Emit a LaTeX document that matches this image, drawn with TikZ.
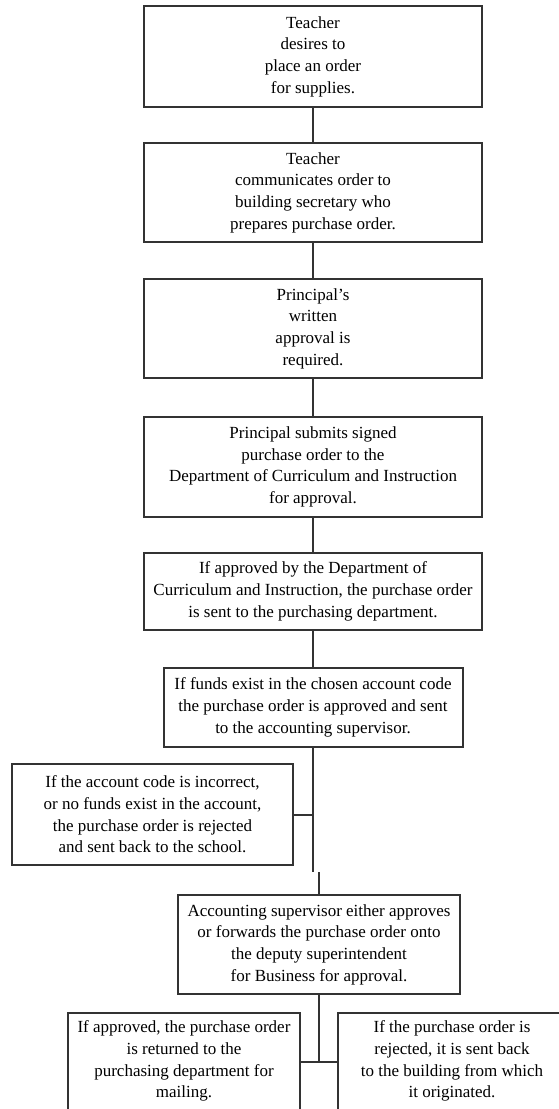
\documentclass[tikz,border=0pt]{standalone}
\usepackage{fontspec}
\setmainfont{Liberation Serif}
\begin{document}
\begin{tikzpicture}[x=1pt,y=-1pt,
  box/.style={draw=black!80, line width=2pt, rectangle, inner sep=0pt, align=center,
    font=\fontsize{17}{21.7}\selectfont},
  txt/.style={inner sep=0pt, align=center, font=\fontsize{17}{21.7}\selectfont},
  con/.style={draw=black!80, line width=2pt}]
\useasboundingbox (0,0) rectangle (559,1109);
\clip (0,0) rectangle (559,1109);

\node[box, minimum width=338pt, minimum height=101pt] (b1) at (313,56.5)
  {Teacher\\desires to\\place an order\\for supplies.};
\node[box, minimum width=338pt, minimum height=99pt] (b2) at (313,192.5)
  {Teacher\\communicates order to\\building secretary who\\prepares purchase order.};
\node[box, minimum width=338pt, minimum height=99pt] (b3) at (313,328.5)
  {Principal’s\\written\\approval is\\required.};
\node[box, minimum width=338pt, minimum height=100pt] (b4) at (313,467)
  {Principal submits signed\\purchase order to the\\Department of Curriculum and Instruction\\for approval.};
\node[box, minimum width=338pt, minimum height=77pt] (b5) at (313,591.5)
  {If approved by the Department of\\Curriculum and Instruction, the purchase order\\is sent to the purchasing department.};
\node[box, minimum width=299pt, minimum height=79pt] (b6) at (313,707.5)
  {If funds exist in the chosen account code\\the purchase order is approved and sent\\to the accounting supervisor.};
\node[box, minimum width=281pt, minimum height=101pt] (b7) at (152.5,814.5)
  {If the account code is incorrect,\\or no funds exist in the account,\\the purchase order is rejected\\and sent back to the school.};
\node[box, minimum width=282pt, minimum height=99pt] (b8) at (319,944.5)
  {Accounting supervisor either approves\\or forwards the purchase order onto\\the deputy superintendent\\for Business for approval.};
\node[box, minimum width=232pt, minimum height=127pt] (b9) at (184,1076.5) {};
\node[txt] (b9t) at (184,1061)
  {If approved, the purchase order\\is returned to the\\purchasing department for\\mailing.};
\node[box, minimum width=228pt, minimum height=127pt] (b10) at (452,1076.5) {};
\node[txt] (b10t) at (452,1061)
  {If the purchase order is\\rejected, it is sent back\\to the building from which\\it originated.};

\coordinate (j1) at (313,872);
\coordinate (j2) at (319,872);
\coordinate (j3) at (319,1062);

\draw[con] (b1.south) -- (b2.north);
\draw[con] (b2.south) -- (b3.north);
\draw[con] (b3.south) -- (b4.north);
\draw[con] (b4.south) -- (b5.north);
\draw[con] (b5.south) -- (b6.north);
\draw[con] (b6.south) -- (j1);
\draw[con] (b7.east) -- (b7.east -| j1);
\draw[con] (j2) -- (b8.north);
\draw[con] (b8.south) -- (j3);
\draw[con] (b9.east |- j3) -- (b10.west |- j3);
\end{tikzpicture}
\end{document}
